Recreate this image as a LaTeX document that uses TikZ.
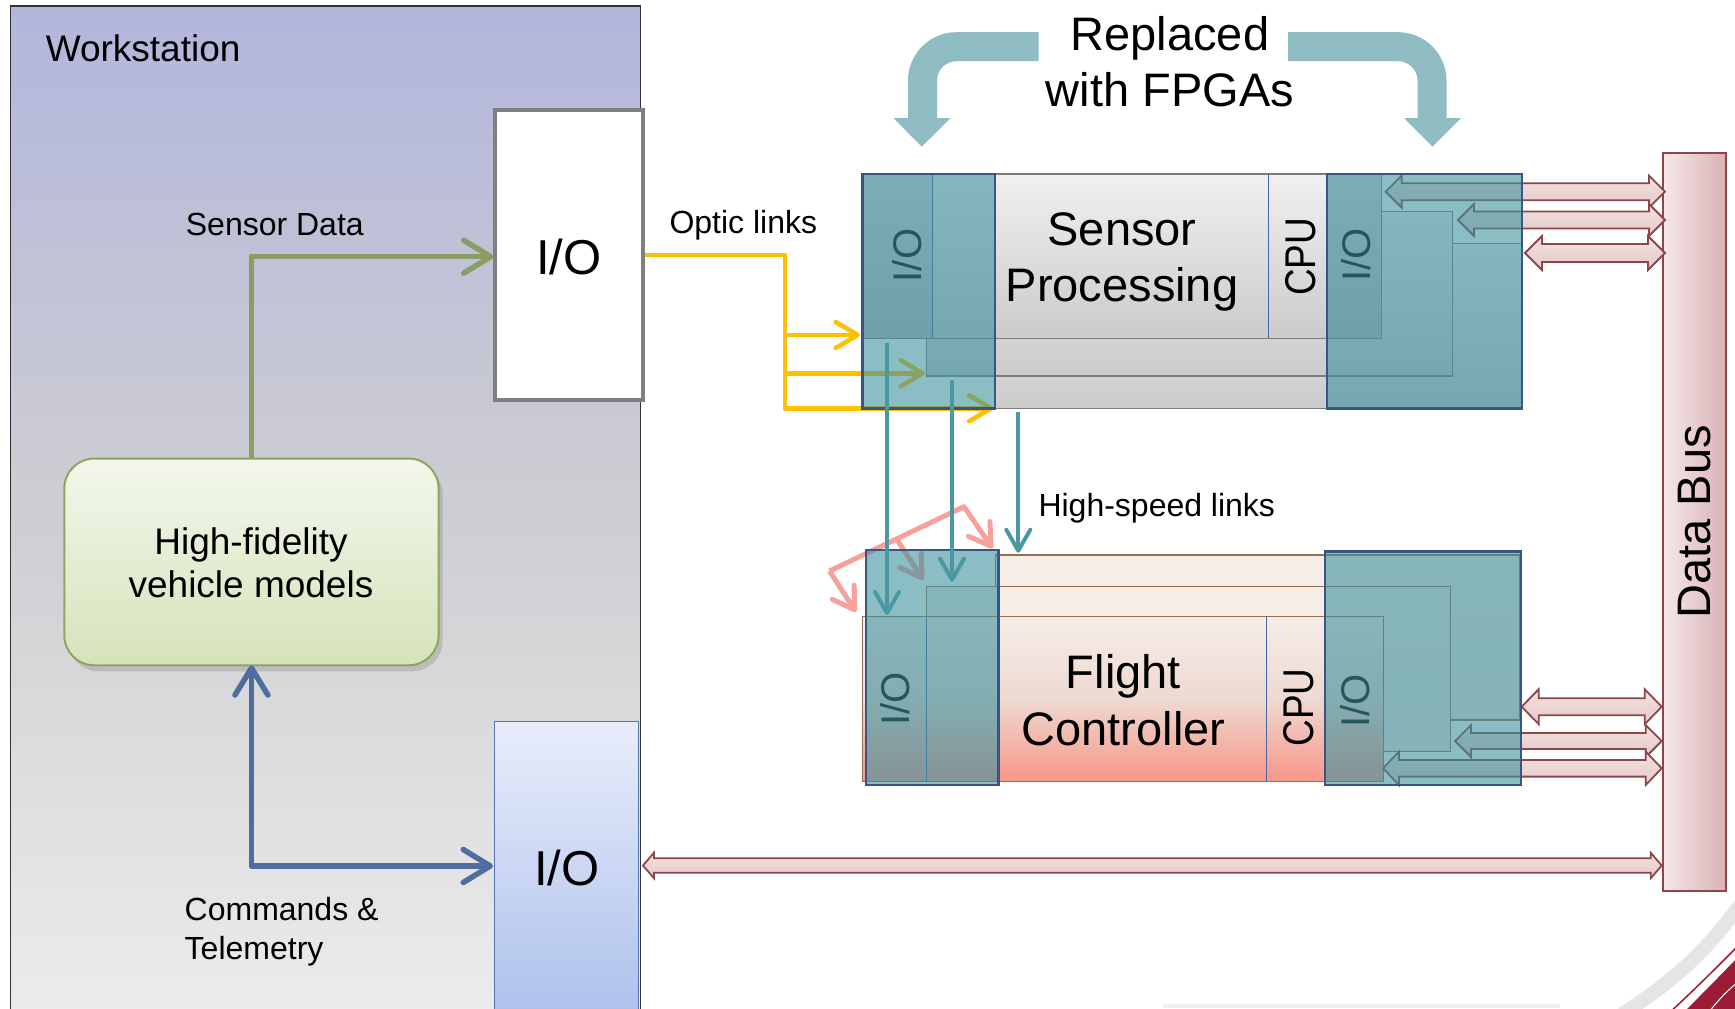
\documentclass[tikz,border=0pt]{standalone}
\usepackage{fontspec}
\setmainfont{Liberation Sans}
\usepackage{graphicx}
\usetikzlibrary{arrows.meta}

\definecolor{wsTop}{RGB}{178,182,220}
\definecolor{wsMid}{RGB}{206,206,210}
\definecolor{wsBot}{RGB}{236,236,236}
\definecolor{wsBorder}{RGB}{50,50,50}
\definecolor{ioGray}{RGB}{128,128,128}
\definecolor{vehTop}{RGB}{243,247,236}
\definecolor{vehBot}{RGB}{213,227,186}
\definecolor{vehBorder}{RGB}{140,165,95}
\definecolor{greenArr}{RGB}{138,157,100}
\definecolor{blueArr}{RGB}{78,110,160}
\definecolor{ioTwoTop}{RGB}{232,237,250}
\definecolor{ioTwoBot}{RGB}{172,192,236}
\definecolor{ioTwoBorder}{RGB}{85,115,170}
\definecolor{yelArr}{RGB}{255,192,0}
\definecolor{tealArr}{RGB}{75,152,163}
\definecolor{tealOv}{RGB}{60,145,158}
\definecolor{ovBorder}{RGB}{55,85,135}
\definecolor{cardTop}{RGB}{240,240,240}
\definecolor{cardBot}{RGB}{203,203,203}
\definecolor{cardBorder}{RGB}{125,125,125}
\definecolor{fcTop}{RGB}{246,237,233}
\definecolor{fcMid}{RGB}{238,217,208}
\definecolor{fcBot}{RGB}{248,150,135}
\definecolor{fcBack}{RGB}{243,230,225}
\definecolor{fcBorder}{RGB}{150,110,80}
\definecolor{divBlue}{RGB}{70,100,170}
\definecolor{busLeft}{RGB}{246,232,232}
\definecolor{busRight}{RGB}{218,178,182}
\definecolor{busBorder}{RGB}{140,72,72}
\definecolor{arrTop}{RGB}{243,224,224}
\definecolor{arrBot}{RGB}{230,202,202}
\definecolor{pinkArr}{RGB}{248,160,155}
\definecolor{fpgaCol}{RGB}{143,188,195}
\definecolor{maroonCol}{RGB}{155,27,55}

\newcommand{\dbarrow}[6]{%
  \draw[blockarr] (#1,#3) -- ({#1+#6},{#3-#5}) -- ({#1+#6},{#3-#4}) -- ({#2-#6},{#3-#4})
    -- ({#2-#6},{#3-#5}) -- (#2,#3) -- ({#2-#6},{#3+#5}) -- ({#2-#6},{#3+#4})
    -- ({#1+#6},{#3+#4}) -- ({#1+#6},{#3+#5}) -- cycle;}

\tikzset{
  box/.style={rectangle, inner sep=0pt, outer sep=0pt, anchor=north west},
  lbl/.style={inner sep=0pt, font=\fontsize{32}{36}\selectfont},
  bigtxt/.style={inner sep=0pt, font=\fontsize{47}{56}\selectfont},
  rotio/.style={inner sep=0pt, rotate=90, font=\fontsize{40}{44}\selectfont},
  rotcpu/.style={inner sep=0pt, rotate=90, font=\fontsize{43}{48}\selectfont},
  sgcard/.style={box, draw=cardBorder, line width=1.3pt, top color=cardTop, bottom color=cardBot},
  fccard/.style={box, draw=fcBorder, line width=1.3pt, top color=fcTop, bottom color=fcBack},
  fcfront/.style={box, draw=fcBorder, line width=1.3pt, top color=fcTop, bottom color=fcBot, middle color=fcMid},
  ovbox/.style={box, draw=ovBorder, line width=2.5pt, fill=tealOv, fill opacity=0.6},
  divline/.style={draw=divBlue, line width=1.2pt},
  greenline/.style={draw=greenArr, line width=5.5pt, line join=round, -{Straight Barb[length=27pt,width=33pt,round]}},
  blueline/.style={draw=blueArr, line width=5.5pt, line join=round, {Straight Barb[length=27pt,width=33pt,round]}-{Straight Barb[length=27pt,width=33pt,round]}},
  yline/.style={draw=yelArr, line width=4.5pt, line join=round, -{Straight Barb[length=22pt,width=26pt,round]}},
  tline/.style={draw=tealArr, line width=4pt, -{Straight Barb[length=21pt,width=24pt,round]}},
  pline/.style={draw=pinkArr, line width=5pt, line join=round, -{Straight Barb[length=21pt,width=26pt,round]}},
  blockarr/.style={draw=busBorder, line width=1.8pt, top color=arrTop, bottom color=arrBot, line join=miter},
  fpgaband/.style={draw=fpgaCol, line width=29pt, rounded corners=34pt},
}

\begin{document}
\begin{tikzpicture}[x=1pt,y=-1pt]
\useasboundingbox (0,0) rectangle (1735,1009);
\fill[white] (0,0) rectangle (1735,1009);

% ---------------- Workstation ----------------
\node[box, draw=wsBorder, line width=1.5pt, top color=wsTop, bottom color=wsBot, middle color=wsMid,
      minimum width=630pt, minimum height=1010pt] (ws) at (10.4,6) {};
\node[inner sep=0pt, anchor=base west, font=\fontsize{37}{40}\selectfont] (wst) at (45.6,61.7) {Workstation};

\node[box, draw=ioGray, line width=4pt, fill=white, minimum width=147.2pt, minimum height=290pt] (io1) at (495.4,110) {};
\node[inner sep=0pt, anchor=base, font=\fontsize{49}{54}\selectfont] (io1t) at (569,274) {I/O};

\node[box, draw=ioTwoBorder, line width=1.5pt, top color=ioTwoTop, bottom color=ioTwoBot,
      minimum width=144pt, minimum height=300pt] (io2) at (494.6,721.5) {};
\node[inner sep=0pt, anchor=base, font=\fontsize{49}{54}\selectfont] (io2t) at (567,885) {I/O};

\fill[black, opacity=0.12, rounded corners=30pt] (68.3,464.5) rectangle (442.6,671.3);
\node[box, draw=vehBorder, line width=2pt, top color=vehTop, bottom color=vehBot, rounded corners=30pt,
      minimum width=374.3pt, minimum height=206.8pt] (veh) at (64.3,458.5) {};
\node[inner sep=0pt, anchor=base, font=\fontsize{37}{40}\selectfont] (veht1) at (251,554) {High-fidelity};
\node[inner sep=0pt, anchor=base, font=\fontsize{37}{40}\selectfont] (veht2) at (251,597.4) {vehicle models};

\coordinate (gIn) at (493.4,256.7);
\draw[greenline] (veh.north) |- (gIn);
\node[lbl, anchor=base west] (sdl) at (185.7,235) {Sensor Data};

\coordinate (bIn) at (493,866);
\draw[blueline] (veh.south) |- (bIn);
\node[lbl, anchor=base west] (cmd1) at (184.5,920) {Commands \&};
\node[lbl, anchor=base west] (cmd2) at (184.5,959.6) {Telemetry};

% ---------------- Sensor Processing cards ----------------
\node[sgcard, minimum width=527pt, minimum height=165pt] (sp3) at (995,243.3) {};
\node[sgcard, minimum width=525.9pt, minimum height=164.3pt] (sp2) at (926.8,211.7) {};
\node[sgcard, minimum width=518.75pt, minimum height=164.3pt] (sp1) at (862.5,174) {};
\fill[black, opacity=0.09] (862.5,174) rectangle (932.6,338.3);
\fill[black, opacity=0.09] (1326.8,174) rectangle (1381.25,338.3);
\draw[divline] (932.6,174) -- (932.6,338.3);
\draw[divline] (1268.75,174) -- (1268.75,338.3);
\node[bigtxt, anchor=base] (spt1) at (1122,245) {Sensor};
\node[bigtxt, anchor=base] (spt2) at (1122,301.7) {Processing};
\node[rotcpu] (spcpu) at (1300.8,256.7) {\scalebox{0.86}[1]{CPU}};
\node[rotio] (spio1) at (907,255.5) {I/O};
\node[rotio] (spio2) at (1356,255) {I/O};

% ---------------- Flight Controller cards ----------------
\node[fccard, minimum width=524.8pt, minimum height=165pt] (fc3) at (995.2,555) {};
\node[fccard, minimum width=523.9pt, minimum height=165pt] (fc2) at (926.8,586.7) {};
\node[fcfront, minimum width=521.5pt, minimum height=165pt] (fc1) at (862.2,616.7) {};
\draw[divline] (926.8,616.7) -- (926.8,781.7);
\draw[divline] (1266.5,616.7) -- (1266.5,781.7);
\node[bigtxt, anchor=base] (fct1) at (1123.4,688.3) {Flight};
\node[bigtxt, anchor=base] (fct2) at (1123.4,745) {Controller};
\node[rotcpu] (fccpu) at (1298.6,707.5) {\scalebox{0.86}[1]{CPU}};
\node[rotio] (fcio1) at (895,699) {I/O};
\node[rotio] (fcio2) at (1355,701) {I/O};

% ---------------- Optic links (yellow) ----------------
\coordinate (yo) at (644.6,255);
\coordinate (yc) at (785,255);
\coordinate (ya) at (860,335);
\coordinate (yb) at (925,373.3);
\coordinate (yd) at (993.3,408.3);
\draw[yline] (yo) -- (yc) -- (yc |- yd) -- (yd);
\draw[yline] (yc |- ya) -- (ya);
\draw[yline] (yc |- yb) -- (yb);

% ---------------- pink links ----------------
\coordinate (p1) at (856,612);
\coordinate (p2) at (829.5,571);
\coordinate (p3) at (964,506.7);
\coordinate (p4) at (992.5,548.3);
\coordinate (pb) at (896.7,539.2);
\coordinate (pbe) at (923.3,580);
\draw[pline] (p2) -- (p3) -- (p4);
\draw[pline] (p2) -- (p1);
\draw[pline] (pb) -- (pbe);

% ---------------- Data Bus ----------------
\node[box, draw=busBorder, line width=2pt, left color=busLeft, right color=busRight,
      minimum width=62.4pt, minimum height=738pt] (bus) at (1663.3,152.7) {};
\node[inner sep=0pt, rotate=90, font=\fontsize{47}{52}\selectfont] (bust) at (1695,521.7) {Data Bus};

\dbarrow{1385.7}{1665}{191.7}{8.5}{16}{16}
\dbarrow{1458}{1665}{220}{8.5}{16}{16}
\dbarrow{1525}{1665}{253}{9}{17}{17}
\dbarrow{1521.7}{1661.7}{706.7}{8.5}{17.5}{17}
\dbarrow{1455}{1661.7}{741}{8}{16}{16}
\dbarrow{1383}{1661.7}{768.3}{8.3}{16.7}{16}
\dbarrow{643}{1661.7}{865.5}{7.3}{12.8}{11}

% ---------------- teal overlays ----------------
\node[ovbox, minimum width=132.5pt, minimum height=234.3pt] (ovs1) at (862.5,174) {};
\node[ovbox, minimum width=195.2pt, minimum height=234.3pt] (ovs2) at (1326.8,174) {};
\node[ovbox, minimum width=132.6pt, minimum height=235pt] (ovf1) at (866,550) {};
\node[ovbox, minimum width=196pt, minimum height=233.3pt] (ovf2) at (1325,551.7) {};

% ---------------- high-speed links (teal) ----------------
\coordinate (t1s) at (887,342.7);  \coordinate (t1e) at (887,615);
\coordinate (t2s) at (952,380);    \coordinate (t2e) at (952,581.7);
\coordinate (t3s) at (1018.3,411.7); \coordinate (t3e) at (1018.3,552.7);
\draw[tline] (t1s) -- (t1e);
\draw[tline] (t2s) -- (t2e);
\draw[tline] (t3s) -- (t3e);

\node[lbl, anchor=base west] (oll) at (669.3,233.3) {Optic links};
\node[lbl, anchor=base west] (hsl) at (1038.3,516) {High-speed links};

% ---------------- Replaced with FPGAs ----------------
\coordinate (fl0) at (1038.7,46.7);
\coordinate (fl1) at (922.5,46.7);
\coordinate (fl2) at (922.5,118.5);
\draw[fpgaband] (fl0) -- (fl1) -- (fl2);
\fill[fpgaCol] (893.4,118) -- (950.7,118) -- (921.7,146.7) -- cycle;
\coordinate (fr0) at (1288,46.7);
\coordinate (fr1) at (1432,46.7);
\coordinate (fr2) at (1432,118.5);
\draw[fpgaband] (fr0) -- (fr1) -- (fr2);
\fill[fpgaCol] (1404,118) -- (1461,118) -- (1432.5,146.7) -- cycle;
\node[bigtxt, anchor=base] (rep1) at (1170,50) {Replaced};
\node[bigtxt, anchor=base] (rep2) at (1170,106) {with FPGAs};

% ---------------- corner decoration ----------------
\draw[line width=4pt, color=black!6] (1163,1006) -- (1560,1006);
\draw[line width=14pt, color=black!10] (1740,905) .. controls (1700,960) and (1660,990) .. (1622,1014);
\draw[maroonCol, line width=1.5pt] (1740,944) .. controls (1712,972) and (1692,992) .. (1668,1014);
\fill[maroonCol] (1740,955) .. controls (1716,980) and (1700,996) .. (1682,1014) -- (1740,1014) -- cycle;
\draw[white, line width=1pt] (1740,980) .. controls (1724,994) .. (1707,1014);
\end{tikzpicture}
\end{document}
